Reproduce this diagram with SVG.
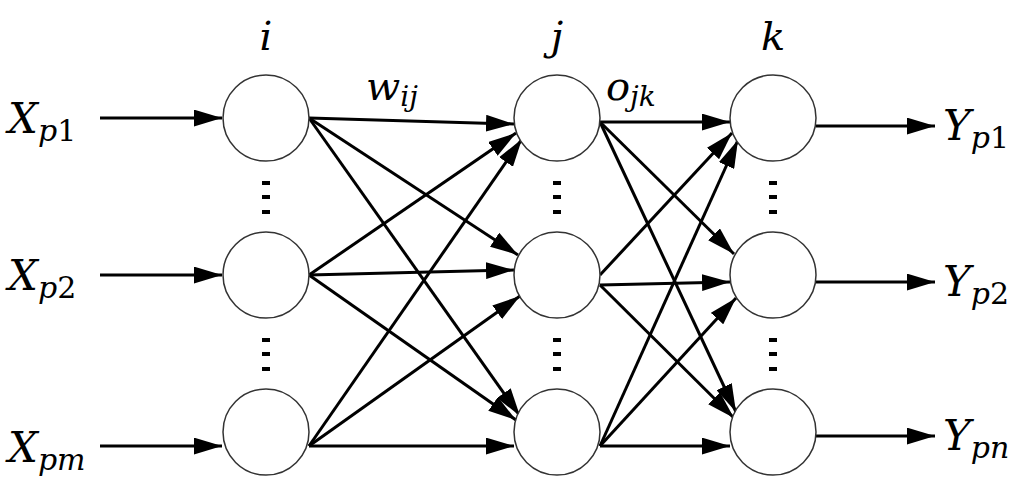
<svg xmlns="http://www.w3.org/2000/svg" width="1024" height="484" viewBox="0 0 1024 484">
<style>
.n{fill:#fff;stroke:#333;stroke-width:1.5}
.d{fill:#000}
</style>
<defs>
<marker id="b" viewBox="0 0 10 6" refX="10" refY="3" markerWidth="28" markerHeight="17" orient="auto" markerUnits="userSpaceOnUse"><path d="M0,0L10,3L0,6z"/></marker></defs>
<rect width="1024" height="484" fill="#fff"/>
<g id="connectors" stroke="#000" stroke-width="3" marker-end="url(#b)">
<line x1="100" y1="118" x2="222" y2="118"/>
<line x1="100" y1="275" x2="222" y2="275"/>
<line x1="100" y1="446" x2="222" y2="446"/>
<line x1="309" y1="118" x2="514" y2="124"/>
<line x1="309" y1="118" x2="518" y2="255"/>
<line x1="309" y1="118" x2="520" y2="416"/>
<line x1="309" y1="275" x2="516" y2="133"/>
<line x1="309" y1="275" x2="514" y2="270"/>
<line x1="309" y1="275" x2="516" y2="420"/>
<line x1="309" y1="446" x2="522" y2="139"/>
<line x1="309" y1="446" x2="520" y2="296"/>
<line x1="309" y1="446" x2="514" y2="446"/>
<line x1="600" y1="122" x2="730" y2="122"/>
<line x1="600" y1="122" x2="734" y2="254"/>
<line x1="600" y1="122" x2="736" y2="412"/>
<line x1="600" y1="275" x2="732" y2="133"/>
<line x1="600" y1="285" x2="730" y2="282"/>
<line x1="600" y1="285" x2="734" y2="418"/>
<line x1="600" y1="446" x2="738" y2="140"/>
<line x1="600" y1="446" x2="736" y2="298"/>
<line x1="600" y1="446" x2="730" y2="446"/>
<line x1="816" y1="126" x2="935" y2="126"/>
<line x1="816" y1="282" x2="935" y2="282"/>
<line x1="816" y1="436" x2="935" y2="436"/>
</g>
<g id="i1"><ellipse class="n" cx="266" cy="118" rx="43" ry="43"/></g>
<g id="i2"><ellipse class="n" cx="266" cy="275" rx="43" ry="43"/></g>
<g id="i3"><ellipse class="n" cx="266" cy="432" rx="43" ry="43"/></g>
<g id="j1"><ellipse class="n" cx="557" cy="118" rx="43" ry="43"/></g>
<g id="j2"><ellipse class="n" cx="557" cy="275" rx="43" ry="43"/></g>
<g id="j3"><ellipse class="n" cx="557" cy="432" rx="43" ry="43"/></g>
<g id="k1"><ellipse class="n" cx="773" cy="118" rx="43" ry="43"/></g>
<g id="k2"><ellipse class="n" cx="773" cy="275" rx="43" ry="43"/></g>
<g id="k3"><ellipse class="n" cx="773" cy="432" rx="43" ry="43"/></g>
<g id="dots" class="d">
<rect x="262" y="181" width="8" height="4"/><rect x="262" y="195" width="8" height="4"/><rect x="262" y="210" width="8" height="4"/>
<rect x="262" y="338" width="8" height="4"/><rect x="262" y="352" width="8" height="4"/><rect x="262" y="367" width="8" height="4"/>
<rect x="553" y="181" width="8" height="4"/><rect x="553" y="195" width="8" height="4"/><rect x="553" y="210" width="8" height="4"/>
<rect x="553" y="338" width="8" height="4"/><rect x="553" y="352" width="8" height="4"/><rect x="553" y="367" width="8" height="4"/>
<rect x="769" y="181" width="8" height="4"/><rect x="769" y="195" width="8" height="4"/><rect x="769" y="210" width="8" height="4"/>
<rect x="769" y="338" width="8" height="4"/><rect x="769" y="352" width="8" height="4"/><rect x="769" y="367" width="8" height="4"/>
</g>
<g id="labels" font-family="'DejaVu Serif', 'Liberation Serif', serif" font-style="italic" fill="#000">
<text x="266" y="50" font-size="40" text-anchor="middle">i</text>
<text x="557" y="50" font-size="40" text-anchor="middle">j</text>
<text x="773" y="50" font-size="40" text-anchor="middle">k</text>
<text x="366" y="100" font-size="40">w<tspan font-size="28" dy="6">ij</tspan></text>
<text x="606" y="100" font-size="40">o<tspan font-size="28" dy="6">jk</tspan></text>
<text x="8" y="133" font-size="42">X<tspan font-size="30" dy="8">p<tspan font-style="normal">1</tspan></tspan></text>
<text x="8" y="290" font-size="42">X<tspan font-size="30" dy="8">p<tspan font-style="normal">2</tspan></tspan></text>
<text x="8" y="462" font-size="42">X<tspan font-size="30" dy="8">pm</tspan></text>
<text x="943" y="140" font-size="42">Y<tspan font-size="30" dy="8">p<tspan font-style="normal">1</tspan></tspan></text>
<text x="943" y="296" font-size="42">Y<tspan font-size="30" dy="8">p<tspan font-style="normal">2</tspan></tspan></text>
<text x="943" y="450" font-size="42">Y<tspan font-size="30" dy="8">pn</tspan></text>
</g>
</svg>
